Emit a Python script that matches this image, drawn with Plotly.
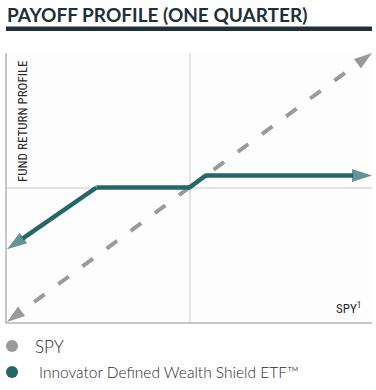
import plotly.graph_objects as go

# ---- data ----
spy_x = [-10, 0, 10]
spy_y = [-10, 0, 10]
fund_x = [-10, -5.1, 0, 0.9, 10]
fund_y = [-4.6, 0, 0, 0.9, 0.9]
legend_labels = ["SPY", "Innovator Defined Wealth Shield ETF™"]
title_text = "PAYOFF PROFILE (ONE QUARTER)"
y_title = "FUND RETURN PROFILE"
x_title = "SPY<sup>1</sup>"

TEAL = "#256769"
GRAY = "#9a9a9b"
DARK = "#1f3038"
TEXT = "#2a2a2a"

W, H = 376, 390
ML, MR, MT, MB = 7, 4, 53, 68
PW, PH = W - ML - MR, H - MT - MB


def px(xp):
    return (xp - ML) / PW


def py(yp):
    return (H - MB - yp) / PH


fig = go.Figure()

# SPY dashed line, split at the middle point so each arm ends in an arrow
for xs, ys in [(spy_x[1::-1], spy_y[1::-1]), (spy_x[1:], spy_y[1:])]:
    n = len(xs)
    fig.add_trace(go.Scatter(
        x=xs, y=ys, mode="lines+markers",
        line=dict(color=GRAY, width=4, dash="13px,17px"),
        marker=dict(symbol=["circle"] * (n - 1) + ["arrow"],
                    size=[4] * (n - 1) + [19],
                    opacity=[0] * (n - 1) + [1],
                    angleref="previous", color=GRAY, line=dict(width=0)),
        cliponaxis=False, showlegend=False, hoverinfo="skip"))

# Fund line
for xs, ys in [(fund_x[1::-1], fund_y[1::-1]), (fund_x[1:], fund_y[1:])]:
    n = len(xs)
    fig.add_trace(go.Scatter(
        x=xs, y=ys, mode="lines+markers",
        line=dict(color=TEAL, width=4.5),
        marker=dict(symbol=["circle"] * (n - 1) + ["arrow"],
                    size=[4.5] * (n - 1) + [21],
                    angleref="previous", color=TEAL, line=dict(width=0)),
        cliponaxis=False, showlegend=False, hoverinfo="skip"))

axis_common = dict(range=[-10, 10], showgrid=False, zeroline=True,
                   zerolinecolor="#e3e3e3", zerolinewidth=1.5,
                   showline=True, linecolor="#c6c6c6", linewidth=1.5,
                   ticks="", showticklabels=False, fixedrange=True)

fig.update_layout(
    width=W, height=H,
    margin=dict(l=ML, r=MR, t=MT, b=MB, pad=0),
    paper_bgcolor="white", plot_bgcolor="#fdfdfd",
    xaxis=axis_common, yaxis=axis_common,
    font=dict(family="Lato, sans-serif", color=TEXT),
)

# title + underline bar
fig.add_annotation(text="<b>" + title_text + "</b>", xref="paper", yref="paper",
                   x=px(5), y=py(14), xanchor="left", yanchor="middle",
                   showarrow=False,
                   font=dict(family="Lato, sans-serif", size=19, weight=900,
                             color=DARK))
fig.add_shape(type="rect", xref="paper", yref="paper",
              x0=px(6), x1=px(372), y0=py(31), y1=py(26.5),
              fillcolor=DARK, line=dict(width=0), layer="above")

# axis labels
cond = "Liberation Sans Narrow, Roboto Condensed, DejaVu Sans Condensed, sans-serif"
fig.add_annotation(text=y_title, xref="paper", yref="paper",
                   x=px(22), y=py(121), textangle=-90,
                   xanchor="center", yanchor="middle", showarrow=False,
                   font=dict(family=cond, size=13, color=TEXT))
fig.add_annotation(text=x_title, xref="paper", yref="paper",
                   x=px(363), y=py(308), xanchor="right", yanchor="middle",
                   showarrow=False, font=dict(family=cond, size=13, color=TEXT))

# custom legend
leg = [(GRAY, 12, 346, 33, 17), (TEAL, 12, 372, 37, 15.5)]
for (col, cx, cy, tx, fs), lab in zip(leg, legend_labels):
    r = 6
    fig.add_shape(type="circle", xref="paper", yref="paper",
                  x0=px(cx - r), x1=px(cx + r), y0=py(cy + r), y1=py(cy - r),
                  fillcolor=col, line=dict(width=0))
    fig.add_annotation(text=lab, xref="paper", yref="paper",
                       x=px(tx), y=py(cy), xanchor="left", yanchor="middle",
                       showarrow=False,
                       font=dict(family="Lato, sans-serif", size=fs,
                                 weight=300, color=TEXT))

fig.write_html("out.html",
               config={"displayModeBar": False},
               post_script="document.body.style.margin='0';"
                           "document.body.style.padding='0';")
